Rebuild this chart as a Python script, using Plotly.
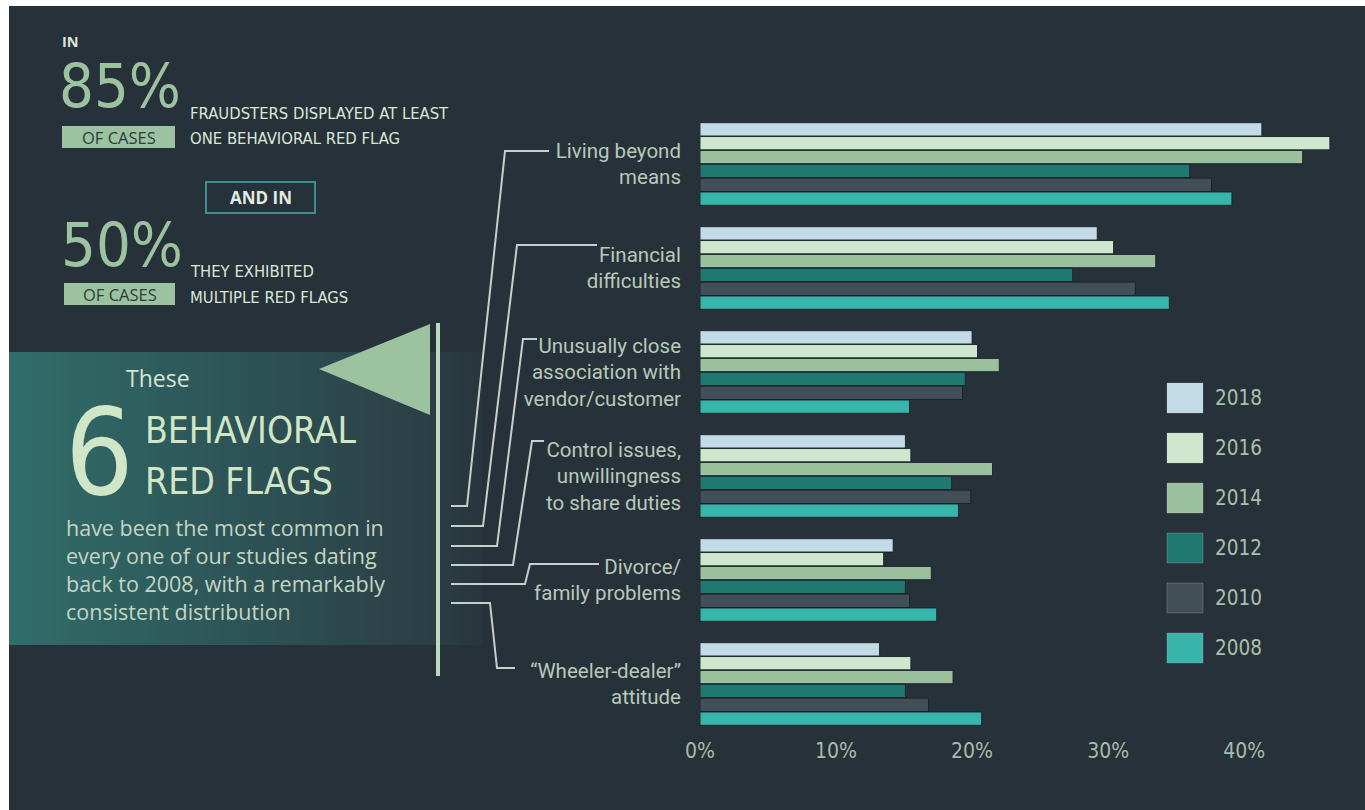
import plotly.graph_objects as go

# ---------------- data ----------------
categories = [
    "Living beyond<br>means",
    "Financial<br>difficulties",
    "Unusually close<br>association with<br>vendor/customer",
    "Control issues,<br>unwillingness<br>to share duties",
    "Divorce/<br>family problems",
    "\u201cWheeler-dealer\u201d<br>attitude",
]
years = ["2018", "2016", "2014", "2012", "2010", "2008"]
v2018 = [41.3, 29.2, 20.0, 15.1, 14.2, 13.2]
v2016 = [46.3, 30.4, 20.4, 15.5, 13.5, 15.5]
v2014 = [44.3, 33.5, 22.0, 21.5, 17.0, 18.6]
v2012 = [36.0, 27.4, 19.5, 18.5, 15.1, 15.1]
v2010 = [37.6, 32.0, 19.3, 19.9, 15.4, 16.8]
v2008 = [39.1, 34.5, 15.4, 19.0, 17.4, 20.7]
series = [v2018, v2016, v2014, v2012, v2010, v2008]
colors = ["#c3dbe6", "#cfe7cd", "#9bc09e", "#207870", "#434f57", "#38b4ab"]
x_tickvals = [0, 10, 20, 30, 40]
x_ticktext = ["0%", "10%", "20%", "30%", "40%"]

# ---------------- geometry ----------------
W, H = 1365, 810
ML, MR, MT, MB = 700, 12, 112, 74
PW, PH = W - ML - MR, H - MT - MB

def X(px):
    return (px - ML) / PW

def Y(py):
    return (MT + PH - py) / PH

BG = "#27313a"
NARROW = "DejaVu Sans Condensed, Liberation Sans Narrow, sans-serif"
SANS = "Open Sans, Noto Sans, sans-serif"
LABEL = "Roboto, Open Sans, sans-serif"

fig = go.Figure()
for yr, vals, col in zip(years, series, colors):
    fig.add_trace(go.Bar(
        y=categories, x=vals, name=yr, orientation="h",
        marker=dict(color=col, line=dict(color="rgba(25,33,39,0.9)", width=1)),
        showlegend=False, hoverinfo="x+name",
    ))

shapes = []
annotations = []

# dark canvas (white strip at top/left as in the reference crop)
shapes.append(dict(type="rect", xref="paper", yref="paper", layer="below",
                   x0=X(9), x1=X(W + 5), y0=Y(6), y1=Y(H + 5),
                   fillcolor=BG, line=dict(width=0)))

# banner with horizontal gradient (strips)
def lerp(c1, c2, t):
    a = [int(c1[i:i + 2], 16) for i in (1, 3, 5)]
    b = [int(c2[i:i + 2], 16) for i in (1, 3, 5)]
    return "#%02x%02x%02x" % tuple(round(a[k] + (b[k] - a[k]) * t) for k in range(3))

x_start, x_end, step = 9, 480, 4
n = (x_end - x_start) // step + 1
for i in range(n):
    x0 = x_start + i * step
    if x0 < 430:
        col = lerp("#306d6a", "#2b3e45", (x0 - x_start) / (430 - x_start))
    else:
        col = lerp("#2b3e45", "#28353d", (x0 - 430) / (x_end - 430))
    shapes.append(dict(type="rect", xref="paper", yref="paper", layer="below",
                       x0=X(x0), x1=X(x0 + step + 1), y0=Y(352), y1=Y(645),
                       fillcolor=col, line=dict(width=0)))

# flag triangle and pole
shapes.append(dict(type="path", xref="paper", yref="paper", layer="below",
                   path="M %f %f L %f %f L %f %f Z" % (X(319), Y(369), X(430), Y(324), X(430), Y(415)),
                   fillcolor="#9cc2a0", line=dict(width=0)))
shapes.append(dict(type="line", xref="paper", yref="paper", layer="below",
                   x0=X(438), x1=X(438), y0=Y(323), y1=Y(676),
                   line=dict(color="#bcd9bd", width=4)))

# leader lines
leaders = [
    [(451, 506), (467, 506), (505, 151), (549, 151)],
    [(451, 526), (483, 526), (517, 245), (597, 245)],
    [(451, 546), (497, 546), (523, 339), (537, 339)],
    [(451, 565), (513, 565), (532, 441), (544, 441)],
    [(451, 584), (525, 584), (530, 564), (599, 564)],
    [(451, 603), (490, 603), (497, 668), (515, 668)],
]
for pts in leaders:
    p = "M " + " L ".join("%f %f" % (X(a), Y(b)) for a, b in pts)
    shapes.append(dict(type="path", xref="paper", yref="paper", layer="below",
                       path=p, line=dict(color="#c6cfca", width=2)))

def txt(text, x, y, size, color, family, xanchor="left", align="left", height=None):
    a = dict(xref="paper", yref="paper", x=X(x), y=Y(y), text=text,
             showarrow=False, xanchor=xanchor, yanchor="middle", align=align,
             font=dict(family=family, size=size, color=color))
    if height is not None:
        a["height"] = height
    annotations.append(a)

# OF CASES boxes and AND IN box
for (x0, y0, x1, y1) in [(62, 126, 175, 148), (64, 283, 175, 305)]:
    shapes.append(dict(type="rect", xref="paper", yref="paper", layer="below",
                       x0=X(x0), x1=X(x1), y0=Y(y1), y1=Y(y0),
                       fillcolor="#9cc2a0", line=dict(width=0)))
    txt("OF CASES", (x0 + x1) / 2, (y0 + y1) / 2 + 0.5, 16.5, "#2d3d3c", SANS,
        xanchor="center", align="center")
shapes.append(dict(type="rect", xref="paper", yref="paper", layer="below",
                   x0=X(206), x1=X(315), y0=Y(213), y1=Y(182),
                   fillcolor="rgba(0,0,0,0)", line=dict(color="#3b8f8c", width=2)))

txt("<b>AND IN</b>", 260.5, 197.5, 17, "#e2ece2", SANS, xanchor="center", align="center")
txt("<b>IN</b>", 60, 42, 14.5, "#d9e6d9", SANS)
txt("85%", 57, 86, 61, "#9cc2a0", NARROW)
txt("50%", 59, 244, 61, "#9cc2a0", NARROW)
txt("FRAUDSTERS DISPLAYED AT LEAST", 188, 113, 16.5, "#d9e7d7", NARROW)
txt("ONE BEHAVIORAL RED FLAG", 188, 139, 16.5, "#d9e7d7", NARROW)
txt("THEY EXHIBITED", 188, 271, 16.5, "#d9e7d7", NARROW)
txt("MULTIPLE RED FLAGS", 188, 297, 16.5, "#d9e7d7", NARROW)
txt("These", 124, 378, 23, "#d6e6d3", SANS)
txt("6", 63, 452, 120, "#d1e6c6", NARROW, height=100)
txt("BEHAVIORAL", 143, 430, 37, "#d1e6c6", NARROW)
txt("RED FLAGS", 143, 481, 37, "#d1e6c6", NARROW)
txt("have been the most common in<br>every one of our studies dating<br>"
    "back to 2008, with a remarkably<br>consistent distribution",
    64, 569, 21.5, "#c4d5c4", SANS)

# legend (drawn manually)
for k, (yr, col) in enumerate(zip(years, colors)):
    y0 = 383 + 50 * k
    shapes.append(dict(type="rect", xref="paper", yref="paper",
                       x0=X(1167), x1=X(1203), y0=Y(y0 + 30), y1=Y(y0),
                       fillcolor=col, line=dict(color="rgba(200,210,205,0.25)", width=1)))
    txt(yr, 1213, y0 + 15, 20.5, "#a9c0aa", NARROW)

fig.update_layout(
    width=W, height=H,
    margin=dict(l=ML, r=MR, t=MT, b=MB, pad=0),
    paper_bgcolor="#ffffff",
    plot_bgcolor="rgba(0,0,0,0)",
    barmode="group", bargap=0.2, bargroupgap=0.04,
    shapes=shapes, annotations=annotations,
    xaxis=dict(range=[0, 48], tickvals=x_tickvals, ticktext=x_ticktext,
               showgrid=False, zeroline=False, showline=False, ticks="",
               tickfont=dict(family=NARROW, size=21, color="#a6bca8"),
               fixedrange=True),
    yaxis=dict(autorange="reversed", showgrid=False, zeroline=False, showline=False,
               ticks="", ticklabelstandoff=18,
               tickfont=dict(family=LABEL, size=20.5, color="#b7c9b8"),
               fixedrange=True),
)

fig.write_html("out.html")
